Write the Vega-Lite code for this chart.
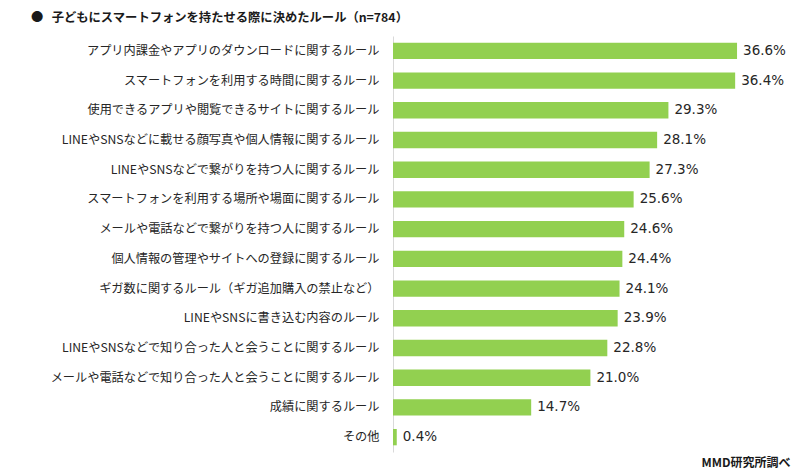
{
  "$schema": "https://vega.github.io/schema/vega-lite/v6.json",
  "autosize": "none",
  "width": 376,
  "height": 416,
  "padding": {"left": 393, "top": 36, "right": 31, "bottom": 24},
  "background": "white",
  "title": {
    "text": "●\u00a0\u00a0\u00a0子どもにスマートフォンを持たせる際に決めたルール（n=784）",
    "anchor": "start",
    "frame": "group",
    "dx": -362,
    "dy": -6,
    "font": "Noto Sans CJK JP",
    "fontSize": 12.3,
    "fontWeight": "bold",
    "color": "#1a1a1a",
    "offset": 6
  },
  "data": {
    "values": [
      {"rule": "アプリ内課金やアプリのダウンロードに関するルール", "pct": 36.6, "label": "36.6%"},
      {"rule": "スマートフォンを利用する時間に関するルール", "pct": 36.4, "label": "36.4%"},
      {"rule": "使用できるアプリや閲覧できるサイトに関するルール", "pct": 29.3, "label": "29.3%"},
      {"rule": "LINEやSNSなどに載せる顔写真や個人情報に関するルール", "pct": 28.1, "label": "28.1%"},
      {"rule": "LINEやSNSなどで繋がりを持つ人に関するルール", "pct": 27.3, "label": "27.3%"},
      {"rule": "スマートフォンを利用する場所や場面に関するルール", "pct": 25.6, "label": "25.6%"},
      {"rule": "メールや電話などで繋がりを持つ人に関するルール", "pct": 24.6, "label": "24.6%"},
      {"rule": "個人情報の管理やサイトへの登録に関するルール", "pct": 24.4, "label": "24.4%"},
      {"rule": "ギガ数に関するルール（ギガ追加購入の禁止など）", "pct": 24.1, "label": "24.1%"},
      {"rule": "LINEやSNSに書き込む内容のルール", "pct": 23.9, "label": "23.9%"},
      {"rule": "LINEやSNSなどで知り合った人と会うことに関するルール", "pct": 22.8, "label": "22.8%"},
      {"rule": "メールや電話などで知り合った人と会うことに関するルール", "pct": 21.0, "label": "21.0%"},
      {"rule": "成績に関するルール", "pct": 14.7, "label": "14.7%"},
      {"rule": "その他", "pct": 0.4, "label": "0.4%"}
    ]
  },
  "encoding": {
    "y": {
      "field": "rule",
      "type": "nominal",
      "sort": null,
      "scale": {"paddingInner": 0.45, "paddingOuter": 0.225},
      "axis": {
        "title": null,
        "ticks": false,
        "domain": true,
        "domainColor": "#d9d9d9",
        "domainWidth": 1,
        "labelPadding": 14,
        "labelFont": "Noto Sans CJK JP",
        "labelFontSize": 12.2,
        "labelColor": "#262626",
        "labelLimit": 400
      }
    },
    "x": {
      "field": "pct",
      "type": "quantitative",
      "scale": {"domain": [0, 40]},
      "axis": {
        "title": "MMD研究所調べ",
        "titleFont": "Noto Sans CJK JP",
        "titleFontSize": 12,
        "titleFontWeight": "bold",
        "titleColor": "#1a1a1a",
        "titleAlign": "right",
        "titleAnchor": "end",
        "titleX": 397,
        "titleY": 5,
        "titleBaseline": "top",
        "labels": false,
        "ticks": false,
        "domain": false,
        "grid": false
      }
    }
  },
  "layer": [
    {"mark": {"type": "bar", "color": "#92d050"}},
    {
      "mark": {"type": "text", "align": "left", "dx": 6, "font": "DejaVu Sans", "fontSize": 13.5, "color": "#262626"},
      "encoding": {"text": {"field": "label", "type": "nominal"}}
    }
  ],
  "config": {"view": {"stroke": null}}
}
